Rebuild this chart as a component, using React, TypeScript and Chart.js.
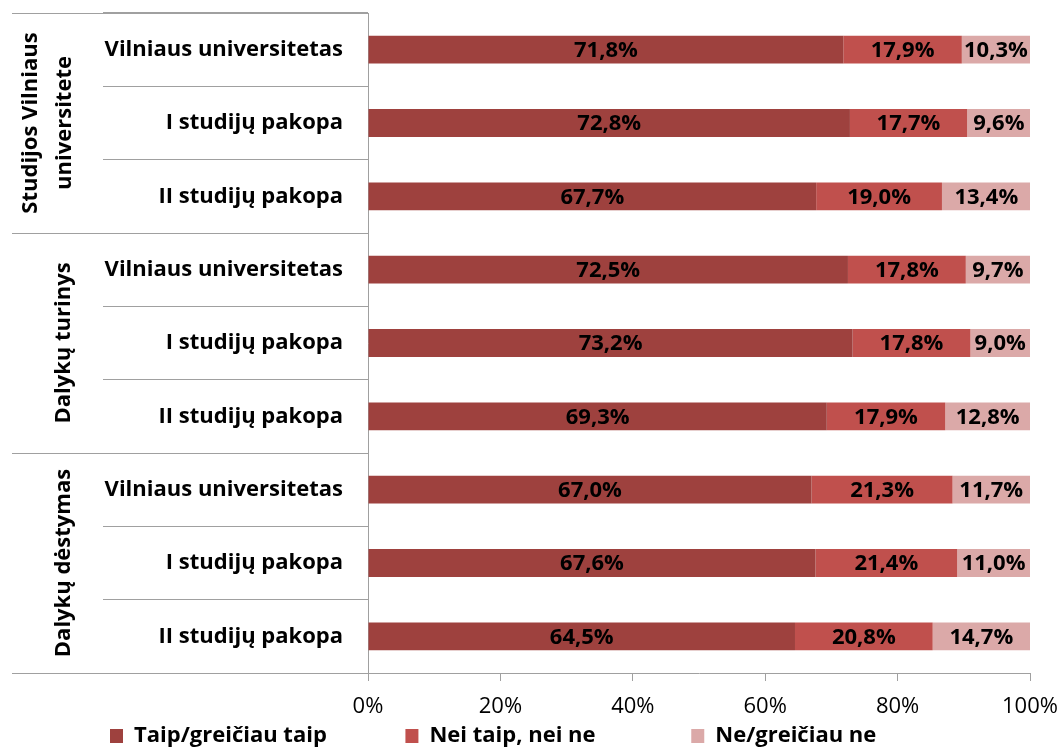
import React, { useEffect, useRef } from 'react';
import { Chart, registerables } from 'chart.js';

Chart.register(...registerables);

const categories = [
  'Vilniaus universitetas',
  'I studijų pakopa',
  'II studijų pakopa',
  'Vilniaus universitetas',
  'I studijų pakopa',
  'II studijų pakopa',
  'Vilniaus universitetas',
  'I studijų pakopa',
  'II studijų pakopa',
];
const groupLabels = [['Studijos Vilniaus', 'universitete'], ['Dalykų turinys'], ['Dalykų dėstymas']];
const groupSize = 3;
const seriesNames = ['Taip/greičiau taip', 'Nei taip, nei ne', 'Ne/greičiau ne'];
const taip = [71.8, 72.8, 67.7, 72.5, 73.2, 69.3, 67.0, 67.6, 64.5];
const neiTaip = [17.9, 17.7, 19.0, 17.8, 17.8, 17.9, 21.3, 21.4, 20.8];
const ne = [10.3, 9.6, 13.4, 9.7, 9.0, 12.8, 11.7, 11.0, 14.7];
const xTickValues = [0, 20, 40, 60, 80, 100];
const colors = ['#9E413E', '#C0504D', '#DBA9A8'];
const legendPad = [12, 15, 0];

const FONT = '"Open Sans"';
const LINE = '#A0A0A0';

const fmt = (v: number) => v.toFixed(1).replace('.', ',') + '%';

const valueLabels = {
  id: 'valueLabels',
  afterDatasetsDraw(chart: any) {
    const ctx = chart.ctx;
    ctx.save();
    ctx.font = `bold 22px ${FONT}`;
    ctx.fillStyle = '#000';
    ctx.textAlign = 'center';
    ctx.textBaseline = 'middle';
    chart.data.datasets.forEach((ds: any, di: number) => {
      const meta = chart.getDatasetMeta(di);
      meta.data.forEach((bar: any, i: number) => {
        const cx = (bar.x + bar.base) / 2;
        ctx.fillText(fmt(ds.data[i]), cx, bar.y + 1);
      });
    });
    ctx.restore();
  },
};

const groupDecor = {
  id: 'groupDecor',
  afterDraw(chart: any) {
    const ctx = chart.ctx;
    const ys = chart.scales.y;
    const catH = (ys.bottom - ys.top) / categories.length;
    ctx.save();
    ctx.fillStyle = LINE;
    const nGroups = groupLabels.length;
    for (let g = 0; g <= nGroups; g++) {
      const y = Math.floor(ys.top + g * groupSize * catH + 0.01);
      ctx.fillRect(12, y, ys.right - 12, 1);
    }
    ctx.fillStyle = '#000';
    ctx.font = `bold 22px ${FONT}`;
    ctx.textAlign = 'center';
    ctx.textBaseline = 'middle';
    groupLabels.forEach((lines, g) => {
      const cy = ys.top + (g * groupSize + groupSize / 2) * catH;
      const cx = lines.length === 1 ? 64 : 48;
      ctx.save();
      ctx.translate(cx, cy);
      ctx.rotate(-Math.PI / 2);
      lines.forEach((t, i) => {
        ctx.fillText(t, 0, (i - (lines.length - 1) / 2) * 34);
      });
      ctx.restore();
    });
    ctx.restore();
  },
};

export default function App() {
  const ref = useRef<HTMLCanvasElement | null>(null);
  useEffect(() => {
    if (!ref.current) return;
    const seriesData = [taip, neiTaip, ne];
    const chart = new Chart(ref.current, {
      type: 'bar',
      data: {
        labels: categories,
        datasets: seriesNames.map((name, i) => ({
          label: name,
          data: seriesData[i],
          backgroundColor: colors[i],
          borderWidth: 0,
          barPercentage: 0.38,
          categoryPercentage: 1,
        })),
      },
      options: {
        indexAxis: 'y',
        responsive: false,
        maintainAspectRatio: false,
        animation: false,
        layout: { padding: { left: 100, right: 29, top: 13, bottom: -10 } },
        scales: {
          x: {
            stacked: true,
            min: 0,
            max: 100,
            afterBuildTicks: (s: any) => {
              s.ticks = xTickValues.map((v) => ({ value: v }));
            },
            ticks: {
              callback: (v: any) => v + '%',
              font: { family: FONT, size: 22 },
              color: '#000',
              padding: 13,
              maxRotation: 0,
            },
            grid: { drawOnChartArea: false, tickLength: 8, color: LINE },
            border: { color: LINE, width: 1 },
            afterFit: (s: any) => {
              s.height = 42;
              s.paddingRight = 0;
              s.paddingLeft = 0;
            },
          },
          y: {
            stacked: true,
            ticks: {
              font: { family: FONT, size: 22, weight: 'bold' },
              color: '#000',
              padding: -240,
            },
            grid: { offset: true, drawOnChartArea: false, tickLength: 265, color: LINE },
            border: { color: LINE, width: 1 },
            afterFit: (s: any) => {
              s.width = 268;
              s.paddingTop = 0;
              s.paddingBottom = 0;
            },
          },
        },
        plugins: {
          legend: {
            position: 'bottom',
            align: 'start',
            labels: {
              boxWidth: 13,
              boxHeight: 14,
              padding: 10,
              color: '#000',
              font: { family: FONT, size: 22, weight: 'bold' },
              generateLabels: (c: any) =>
                Chart.defaults.plugins.legend.labels
                  .generateLabels(c)
                  .map((it: any, i: number) => ({
                    ...it,
                    text: it.text + '\u00A0'.repeat(legendPad[i]),
                    strokeStyle: 'transparent',
                    lineWidth: 0,
                  })),
            },
          },
          tooltip: { enabled: false },
        },
      },
      plugins: [valueLabels, groupDecor],
    } as any);
    return () => chart.destroy();
  }, []);
  return (
    <div style={{ position: 'absolute', left: 0, top: 0, width: 1059, height: 747, background: '#fff' }}>
      <canvas ref={ref} width={1059} height={747} style={{ display: 'block' }} />
    </div>
  );
}
